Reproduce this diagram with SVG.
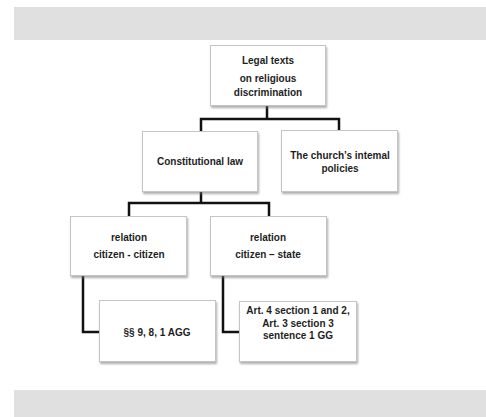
<svg xmlns="http://www.w3.org/2000/svg" width="486" height="417" viewBox="0 0 486 417">
<style>
.band{fill:#e0e0e0}
.box{fill:#ffffff;stroke:#c4c4c4;stroke-width:1}
.lbl{font-family:"Liberation Sans",Arial,sans-serif;font-weight:bold;font-size:10px;fill:#1e1e1e;text-anchor:middle}
.conn{fill:none;stroke:#111111;stroke-width:2.5;stroke-linejoin:miter}
</style>
<defs>
<filter id="sh" x="-10%" y="-10%" width="130%" height="140%">
<feDropShadow dx="1" dy="2" stdDeviation="1.2" flood-color="#777777" flood-opacity="0.6"/>
</filter>
</defs>
<rect width="486" height="417" fill="#ffffff"/>
<rect class="band" x="14" y="7" width="472" height="33"/>
<rect class="band" x="14" y="390" width="472" height="27"/>
<g id="connectors">
<path class="conn" d="M267,105 V119 M201,131 V119 H339 V131"/>
<path class="conn" d="M201,192 V203 M129,216 V203 H269 V216"/>
<path class="conn" d="M83,276 V332 H99"/>
<path class="conn" d="M223,276 V332 H239"/>
</g>
<g id="legal-texts">
<rect class="box" x="210.5" y="45.5" width="115" height="60" filter="url(#sh)"/>
<text class="lbl" x="268" y="64">Legal texts</text>
<text class="lbl" x="268" y="81.5">on religious</text>
<text class="lbl" x="268" y="95.5">discrimination</text>
</g>
<g id="constitutional-law">
<rect class="box" x="142.5" y="131.5" width="115" height="60" filter="url(#sh)"/>
<text class="lbl" x="200" y="165">Constitutional law</text>
</g>
<g id="church">
<rect class="box" x="281.5" y="130.5" width="116" height="61" filter="url(#sh)"/>
<text class="lbl" x="340" y="158.5">The church’s intemal</text>
<text class="lbl" x="340" y="171.5">policies</text>
</g>
<g id="citizen-citizen">
<rect class="box" x="70.5" y="216.5" width="116" height="59" filter="url(#sh)"/>
<text class="lbl" x="129" y="240.5">relation</text>
<text class="lbl" x="129" y="258">citizen - citizen</text>
</g>
<g id="citizen-state">
<rect class="box" x="210.5" y="216.5" width="116" height="59" filter="url(#sh)"/>
<text class="lbl" x="268" y="240.5">relation</text>
<text class="lbl" x="268" y="258">citizen – state</text>
</g>
<g id="agg">
<rect class="box" x="99.5" y="300.5" width="116" height="61" filter="url(#sh)"/>
<text class="lbl" x="157" y="336">§§ 9, 8, 1 AGG</text>
</g>
<g id="gg">
<rect class="box" x="239.5" y="301.5" width="117" height="60" filter="url(#sh)"/>
<text class="lbl" x="298" y="313.5">Art. 4 section 1 and 2,</text>
<text class="lbl" x="298" y="326.5">Art. 3 section 3</text>
<text class="lbl" x="298" y="339">sentence 1 GG</text>
</g>
</svg>
